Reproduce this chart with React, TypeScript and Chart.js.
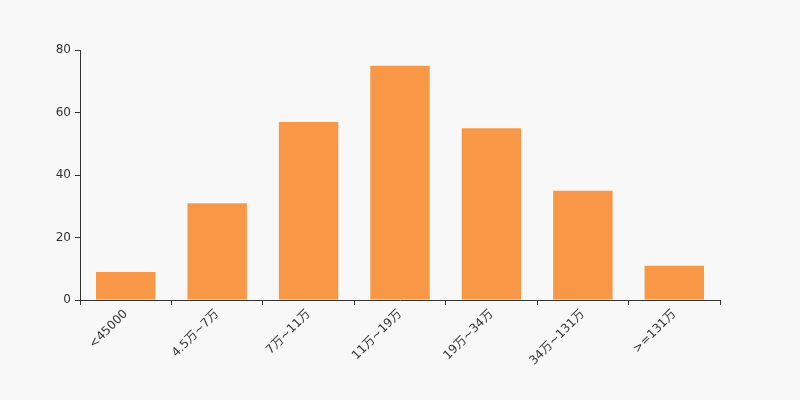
import React, { useEffect, useRef } from "react";
import { Chart, registerables } from "chart.js";

Chart.register(...registerables);

const categories = ["<45000", "4.5万~7万", "7万~11万", "11万~19万", "19万~34万", "34万~131万", ">=131万"];
const values = [9, 31, 57, 75, 55, 35, 11];
const yTicks = [0, 20, 40, 60, 80];

export default function App() {
  const ref = useRef<HTMLCanvasElement>(null);
  useEffect(() => {
    document.body.style.margin = "0";
    const ctx = ref.current!;
    const font = { family: "'DejaVu Sans', 'Noto Sans CJK SC', sans-serif", size: 12 };
    const chart = new Chart(ctx, {
      type: "bar",
      data: {
        labels: categories,
        datasets: [
          {
            data: values,
            backgroundColor: "#f89847",
            barPercentage: 0.65,
            categoryPercentage: 1,
          },
        ],
      },
      options: {
        animation: false,
        responsive: false,
        maintainAspectRatio: false,
        layout: { padding: { top: 50, right: 80, left: 0, bottom: 0 } },
        plugins: { legend: { display: false }, tooltip: { enabled: false } },
        scales: {
          x: {
            grid: { drawOnChartArea: false, color: "#333", tickLength: 5, offset: true },
            border: { color: "#333" },
            ticks: { color: "#333", font, minRotation: 45, maxRotation: 45, autoSkip: false, padding: 2 },
            afterFit: (s: any) => { s.height = 100; },
          },
          y: {
            min: 0,
            max: 80,
            afterBuildTicks: (s: any) => { s.ticks = yTicks.map((v) => ({ value: v })); },
            grid: { drawOnChartArea: false, color: "#333", tickLength: 5 },
            border: { color: "#333" },
            ticks: { color: "#333", font, padding: 4 },
            afterFit: (s: any) => { s.width = 80; },
          },
        },
      },
    });
    return () => chart.destroy();
  }, []);
  return (
    <div style={{ width: 800, height: 400, background: "#f8f8f8" }}>
      <canvas ref={ref} width={800} height={400} style={{ display: "block" }} />
    </div>
  );
}
